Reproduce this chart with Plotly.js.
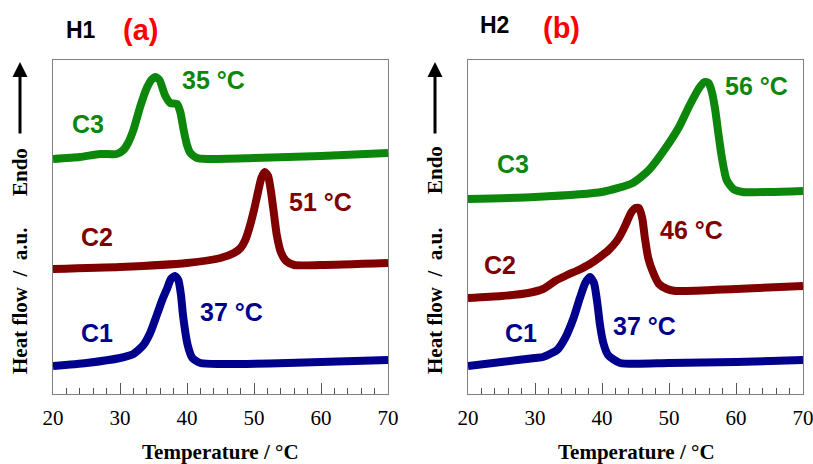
<!DOCTYPE html>
<html>
<head>
<meta charset="utf-8">
<script src="https://cdn.plot.ly/plotly-3.0.1.min.js"></script>
<style>html,body{margin:0;padding:0;background:#fff}#chart{width:813px;height:464px}</style>
</head>
<body>
<div id="chart"></div>
<script>
// Temperatures (°C) and heat flow (a.u.)
const h1_c1_T = [20,25,30,32,33.5,34.5,35.5,36.3,37,37.6,38.2,38.7,39.1,39.4,40.1,40.8,42,45,55,70];
const h1_c1_y = [28,31,36,40,49,61,79,94,105,115,118,114,99,79,49,36,31,30,31,34];
const h1_c2_T = [20,30,40,45,47,48,48.7,49.3,50,50.6,51.1,51.6,52.1,52.5,53,53.4,54,54.8,56,60,70];
const h1_c2_y = [125,127,131,136,141,146,154,166,184,202,216,222,218,204,179,159,142,133,129,129,131];
const h1_c3_T = [20,24,27,29.5,30.5,31.2,32,33,34,34.8,35.3,35.9,36.7,37.5,38.5,39,39.5,40,40.5,41.5,43,50,60,70];
const h1_c3_y = [235,237,240,240,244,251,264,287,306,315,317,314,299,291,290,282,264,249,241,236,235,236,238,241];

const h2_c1_T = [20,25,30,31.2,32.5,33.3,34.5,35.7,36.7,37.5,38.2,38.8,39.3,39.7,40.2,40.9,42.7,50,60,70];
const h2_c1_y = [28,32,36,37,41,44,56,75,96,111,117,111,91,69,51,39,31,31,32,34];
const h2_c2_T = [20,25,29,31.2,33,34.8,36.5,38.2,39.7,41,42.2,43,43.7,44.4,45,45.5,46,46.4,46.9,47.6,48.5,49.7,51,60,70];
const h2_c2_y = [96,98,101,105,113,119,124,130,137,144,153,162,172,182,186,186,176,156,136,122,110,105,103,105,108];
const h2_c3_T = [20,30,40,44.6,47,49.7,51.5,53.1,54.5,55.3,55.9,56.4,56.9,57.4,57.9,58.6,59.6,61,65,70];
const h2_c3_y = [195,197,202,211,224,248,267,289,306,312,311,302,284,259,236,214,205,202,202,203];

const xTicks = [20,30,40,50,60,70];
const colC1 = '#00008c', colC2 = '#800000', colC3 = '#0c870c';

function tr(x, y, col, xa, ya) {
  return {x: x, y: y, type: 'scatter', mode: 'lines', xaxis: xa, yaxis: ya,
    line: {color: col, width: 8, shape: 'spline', smoothing: 0.6}, hoverinfo: 'skip'};
}
const data = [
  tr(h1_c1_T, h1_c1_y, colC1, 'x', 'y'),
  tr(h1_c2_T, h1_c2_y, colC2, 'x', 'y'),
  tr(h1_c3_T, h1_c3_y, colC3, 'x', 'y'),
  tr(h2_c1_T, h2_c1_y, colC1, 'x2', 'y2'),
  tr(h2_c2_T, h2_c2_y, colC2, 'x2', 'y2'),
  tr(h2_c3_T, h2_c3_y, colC3, 'x2', 'y2')
];

const W = 813, H = 464;
const serif = '"Liberation Serif", "Times New Roman", serif';
const sans = '"Liberation Sans", Arial, sans-serif';

function xax(dom, anchor) {
  return {domain: dom, anchor: anchor, range: [20, 70], tickvals: xTicks, ticktext: xTicks.map(String),
    ticks: 'inside', ticklen: 11, tickwidth: 1, tickcolor: '#555',
    minor: {dtick: 2, tick0: 20, ticks: 'inside', ticklen: 6, tickwidth: 1, tickcolor: '#555', showgrid: false},
    showline: true, linecolor: '#808080', linewidth: 1, mirror: true, showgrid: false, zeroline: false,
    tickfont: {family: serif, size: 21, color: '#000'}, ticklabelstandoff: 5, ticklabeloverflow: 'allow',
    automargin: false};
}
function yax(anchor) {
  return {domain: [70 / H, 404 / H], anchor: anchor, range: [0, 334], showticklabels: false, ticks: '',
    showline: true, linecolor: '#808080', linewidth: 1, mirror: true, showgrid: false, zeroline: false, automargin: false};
}

function lab(text, x, y, col, xr, yr, size) {
  return {text: text, x: x, y: y, xref: xr, yref: yr, showarrow: false,
    font: {family: sans, size: size || 25, color: col}, xanchor: 'center', yanchor: 'middle'};
}
function pap(text, px, py, font, extra) {
  return Object.assign({text: text, x: px / W, y: 1 - py / H, xref: 'paper', yref: 'paper', showarrow: false,
    font: font, xanchor: 'center', yanchor: 'middle'}, extra || {});
}
const axFont = {family: serif, size: 21, color: '#000', weight: 'bold'};
const nb = '\u00a0';

const annotations = [
  lab('<b>C3</b>', 25.2, 270, colC3, 'x', 'y'),
  lab('<b>35 °C</b>', 43.9, 314, colC3, 'x', 'y'),
  lab('<b>C2</b>', 26.6, 157, colC2, 'x', 'y'),
  lab('<b>51 °C</b>', 59.9, 192, colC2, 'x', 'y'),
  lab('<b>C1</b>', 26.6, 61, colC1, 'x', 'y'),
  lab('<b>37 °C</b>', 46.7, 82, colC1, 'x', 'y'),
  lab('<b>C3</b>', 26.7, 230, colC3, 'x2', 'y2'),
  lab('<b>56 °C</b>', 63.1, 308, colC3, 'x2', 'y2'),
  lab('<b>C2</b>', 24.8, 129, colC2, 'x2', 'y2'),
  lab('<b>46 °C</b>', 53.4, 164, colC2, 'x2', 'y2'),
  lab('<b>C1</b>', 27.9, 61, colC1, 'x2', 'y2'),
  lab('<b>37 °C</b>', 46.4, 68, colC1, 'x2', 'y2'),
  pap('<b>H1</b>', 81, 30, {family: sans, size: 23, color: '#000'}),
  pap('<b>(a)</b>', 140, 30, {family: sans, size: 29, color: '#ff0000'}),
  pap('<b>H2</b>', 494, 25, {family: sans, size: 23, color: '#000'}),
  pap('<b>(b)</b>', 561, 28, {family: sans, size: 29, color: '#ff0000'}),
  pap('<b>Temperature / °C</b>', 221, 452, axFont),
  pap('<b>Temperature / °C</b>', 636, 452, axFont),
  pap('<b>Endo</b>', 20, 172, axFont, {textangle: -90}),
  pap('<b>Heat flow' + nb + nb + '/' + nb + nb + 'a.u.</b>', 20, 301, axFont, {textangle: -90}),
  pap('<b>Endo</b>', 435, 170, axFont, {textangle: -90}),
  pap('<b>Heat flow' + nb + nb + '/' + nb + nb + 'a.u.</b>', 435, 301, axFont, {textangle: -90}),
  {x: 20 / W, y: 1 - 62 / H, xref: 'paper', yref: 'paper', text: '', showarrow: true,
   axref: 'pixel', ayref: 'pixel', ax: 0, ay: 73, arrowhead: 2, arrowsize: 1, arrowwidth: 3, arrowcolor: '#000'},
  {x: 435 / W, y: 1 - 62 / H, xref: 'paper', yref: 'paper', text: '', showarrow: true,
   axref: 'pixel', ayref: 'pixel', ax: 0, ay: 73, arrowhead: 2, arrowsize: 1, arrowwidth: 3, arrowcolor: '#000'}
];

const layout = {
  width: W, height: H, margin: {l: 0, r: 0, t: 0, b: 0},
  paper_bgcolor: '#fff', plot_bgcolor: '#fff', showlegend: false,
  xaxis: xax([53 / W, 388 / W], 'y'),
  yaxis: yax('x'),
  xaxis2: xax([468 / W, 803 / W], 'y2'),
  yaxis2: yax('x2'),
  annotations: annotations
};
Plotly.newPlot('chart', data, layout, {displayModeBar: false, staticPlot: true});
</script>
</body>
</html>
